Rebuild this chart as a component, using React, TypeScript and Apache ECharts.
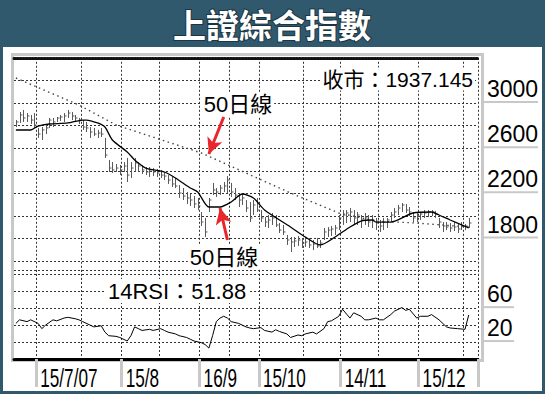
import React, { useEffect, useRef } from 'react';
import * as echarts from 'echarts';

const TITLE = '上證綜合指數';
const CLOSE_TEXT = '收市：1937.145';
const RSI_TEXT = '14RSI：51.88';
const MA_NOTE = '50日線';

// daily bars (high / low / close), one per trading day
const high = [2849,2920,2938,2911,2894,2911,2779,2787,2805,2867,
  2867,2876,2894,2911,2938,2920,2894,2867,2849,2832,
  2787,2779,2761,2779,2690,2495,2477,2460,2451,2477,
  2513,2477,2513,2477,2451,2433,2433,2424,2415,2407,
  2389,2362,2345,2336,2274,2247,2212,2194,2176,2159,
  2035,1982,2159,2292,2247,2274,2300,2353,2292,2247,
  2203,2203,2141,2123,2141,2159,2052,1990,2008,2026,
  2008,1937,1920,1831,1813,1813,1822,1804,1813,1804,
  1787,1804,1787,1893,1902,1911,1920,2008,2052,2052,
  2070,2052,2035,2008,2026,2008,2008,1982,1964,1982,
  1982,2035,2070,2097,2114,2106,2079,2035,2026,2035,
  2052,2052,2052,2044,1982,1946,1946,1937,1946,1937,
  1946,1928,1982];
const low = [2787,2823,2832,2832,2814,2779,2690,2672,2725,2779,
  2787,2832,2841,2832,2867,2849,2832,2814,2761,2743,
  2690,2708,2690,2699,2513,2389,2380,2389,2362,2389,
  2300,2336,2389,2389,2371,2362,2345,2353,2345,2336,
  2318,2283,2256,2247,2159,2141,2106,2088,2070,2052,
  1911,1813,2035,2185,2168,2185,2212,2203,2168,2141,
  2079,2097,2035,1946,2008,2035,1946,1902,1893,1920,
  1902,1849,1831,1743,1680,1725,1734,1716,1725,1716,
  1698,1716,1716,1787,1813,1822,1831,1875,1920,1937,
  1946,1920,1920,1893,1920,1902,1893,1875,1858,1875,
  1893,1946,1982,2008,2035,2026,1999,1946,1946,1964,
  1982,1990,1999,1982,1893,1858,1875,1858,1866,1849,
  1875,1875,1893];
const close = [2832,2894,2867,2885,2849,2805,2725,2761,2779,2849,
  2832,2867,2876,2885,2911,2885,2867,2849,2787,2779,
  2743,2725,2734,2725,2539,2424,2407,2424,2407,2442,
  2362,2424,2469,2442,2407,2389,2407,2389,2380,2362,
  2353,2318,2283,2265,2203,2176,2159,2141,2106,2088,
  1946,1858,2141,2230,2212,2247,2265,2318,2212,2185,
  2141,2159,2070,1982,2097,2052,1982,1946,1964,1982,
  1920,1875,1858,1787,1769,1778,1787,1760,1769,1743,
  1751,1734,1760,1858,1875,1884,1893,1982,2008,2026,
  2035,1982,2008,1964,1982,1946,1964,1937,1911,1946,
  1964,2008,2035,2070,2097,2052,2035,1982,1999,2017,
  2026,2035,2035,2017,1946,1911,1902,1893,1902,1884,
  1911,1911,1937];

// solid moving average (read at traced points)
const maIdx = [0,4,6,9,14,18,19,22,24,26,30,32,33,35,40,43,47,49,52,55,58,61,64,67,74,78,82,86,90,93,96,97,101,107,112,114,117,122];
const maVal = [2761,2761,2796,2814,2823,2849,2849,2823,2787,2672,2566,2495,2469,2424,2389,2336,2247,2212,2079,2079,2123,2194,2159,2052,1902,1813,1743,1813,1902,1955,1964,1946,1946,2026,2035,2008,1964,1895];

// dotted long moving average
const longIdx = [0,17,27,50,62,74,87,97,108,122];
const longVal = [3221,2982,2805,2557,2380,2203,2026,1955,1937,1902];

// 14-day RSI
const rsiIdx = [0,1,3,4,6,7,8,10,11,13,14,16,17,18,20,21,23,24,25,27,28,30,31,32,33,34,36,37,39,40,41,43,44,46,47,48,50,51,52,53,54,55,56,57,58,60,62,63,64,66,67,69,70,71,73,74,76,77,78,80,81,83,84,85,87,88,90,91,93,94,95,97,98,99,101,102,104,105,106,108,109,111,112,114,116,117,119,121,122];
const rsiVal = [42.0,46.2,44.1,46.2,42.0,35.8,40.0,46.2,45.0,48.3,49.2,47.5,46.2,44.1,40.0,37.9,39.2,31.7,27.5,26.7,25.4,21.2,27.5,37.9,35.8,33.7,35.0,33.7,35.8,33.7,31.7,29.6,27.5,25.4,23.3,21.2,19.2,17.0,12.9,27.5,44.1,48.3,50.4,48.3,44.1,42.0,37.9,36.6,35.8,37.0,33.7,31.7,34.5,32.5,29.6,25.4,28.3,27.5,29.6,31.7,29.6,35.8,44.1,45.0,50.4,58.7,48.3,54.5,50.4,46.2,46.2,48.3,46.2,46.2,52.4,56.5,60.7,57.4,58.7,48.3,50.4,50.4,52.4,46.2,37.9,36.6,35.8,35.0,51.9];

const priceLabels = [3000, 2600, 2200, 1800];
const rsiLabels = [60, 20];
const tickLabels = ['15/7/07', '15/8', '16/9', '15/10', '14/11', '15/12'];
const tickIdx = [6, 29, 50, 66, 88, 109];
const gridIdx = [6, 18, 29, 39, 50, 58, 66, 78, 88, 98, 109, 121];
const SLOT_COUNT = 125;

// annotation arrows, in data space [day index, price]
const arrowToLong = [[56, 2876], [52, 2548]];
const arrowToMa = [[57, 1787], [55, 2070]];

export default function App() {
  const ref = useRef<HTMLDivElement>(null);
  useEffect(() => {
    const chart = echarts.init(ref.current!, null, { renderer: 'svg' });
    const cats = Array.from({ length: SLOT_COUNT }, (_, i) => String(i));
    const bars = high.map((h, i) => [i, h, low[i], close[i]]);
    const LAT = '"Liberation Sans", Arial, sans-serif';
    const MIX = '"Liberation Sans", "Noto Sans CJK TC", sans-serif';
    const dash = { color: '#333', width: 1, type: [2, 2] };
    const isGrid = (i: number) => gridIdx.includes(i);
    const isTick = (i: number) => tickIdx.includes(i);

    const baseGraphic: any[] = [
      { type: 'rect', z: -10, shape: { x: 3, y: 47, width: 539, height: 344 }, style: { fill: '#fff' } },
      { type: 'rect', z: -5, shape: { x: 12.5, y: 54.5, width: 470, height: 306 }, style: { fill: 'none', stroke: '#c8c8c8', lineWidth: 3 } },
      {
        type: 'text', z: 30, x: 272, y: 24,
        style: { text: TITLE, fill: '#fff', stroke: '#1b3542', lineWidth: 2, font: 'bold 33px "Noto Sans CJK TC", sans-serif', align: 'center', verticalAlign: 'middle' },
      },
      {
        type: 'text', z: 30, x: 475, y: 79,
        style: { text: CLOSE_TEXT, fill: '#000', font: `21px ${MIX}`, align: 'right', verticalAlign: 'middle', backgroundColor: '#fff', padding: [1, 2] },
      },
      {
        type: 'text', z: 30, x: 106, y: 291,
        style: { text: RSI_TEXT, fill: '#000', font: `22px ${MIX}`, align: 'left', verticalAlign: 'middle', backgroundColor: '#fff', padding: [1, 2] },
      },
      {
        type: 'text', z: 30, x: 238, y: 104,
        style: { text: MA_NOTE, fill: '#000', font: `22px ${MIX}`, align: 'center', verticalAlign: 'middle', backgroundColor: '#fff', padding: [1, 2] },
      },
      {
        type: 'text', z: 30, x: 224, y: 257,
        style: { text: MA_NOTE, fill: '#000', font: `22px ${MIX}`, align: 'center', verticalAlign: 'middle', backgroundColor: '#fff', padding: [1, 2] },
      },
    ];

    chart.setOption({
      animation: false,
      backgroundColor: '#31596d',
      grid: [
        { left: 14, right: 67, top: 57.8, height: 225.9, outerBoundsMode: 'none', containLabel: false },
        { left: 14, right: 67, top: 270, height: 89, outerBoundsMode: 'none', containLabel: false },
      ],
      xAxis: [
        {
          type: 'category', gridIndex: 0, data: cats, position: 'top', boundaryGap: true,
          axisLine: { show: true, lineStyle: { color: '#111', width: 3, type: [1.5, 1.5] } },
          axisTick: { show: false }, axisLabel: { show: false },
          splitLine: { show: true, interval: (i: number) => isGrid(i), lineStyle: dash },
        },
        {
          type: 'category', gridIndex: 1, data: cats, position: 'top', boundaryGap: true,
          axisLine: { show: true, lineStyle: { color: '#000', width: 3 } },
          axisTick: { show: false }, axisLabel: { show: false },
          splitLine: { show: true, interval: (i: number) => isGrid(i), lineStyle: dash },
        },
        {
          type: 'category', gridIndex: 1, data: cats, position: 'bottom', boundaryGap: true,
          axisLine: { show: false },
          axisTick: { show: true, interval: (i: number) => isTick(i), length: 28, lineStyle: { color: '#c8c8c8', width: 3 } },
          axisLabel: { show: false },
          splitLine: { show: false },
        },
      ],
      yAxis: [
        {
          type: 'value', gridIndex: 0, position: 'right', min: 1400, max: 3400, interval: 200,
          axisLine: { show: false }, axisTick: { show: false },
          splitLine: { show: true, showMinLine: false, lineStyle: dash },
          axisLabel: {
            show: true, margin: 4, verticalAlign: 'bottom',
            formatter: (v: number) => (priceLabels.includes(v) ? `{t|${v}}\n{u|}` : ''),
            rich: {
              t: { fontSize: 23, fontFamily: LAT, color: '#000', padding: [0, 0, 0, 5], lineHeight: 24 },
              u: { width: 56, height: 2, backgroundColor: '#c8c8c8' },
            },
          },
        },
        {
          type: 'value', gridIndex: 1, position: 'right', min: 0, max: 105, interval: 20,
          axisLine: { show: false }, axisTick: { show: false },
          splitLine: { show: true, showMinLine: false, lineStyle: dash },
          axisLabel: {
            show: true, margin: 4, verticalAlign: 'bottom',
            formatter: (v: number) => (rsiLabels.includes(v) ? `{t|${v}}\n{u|}` : ''),
            rich: {
              t: { fontSize: 23, fontFamily: LAT, color: '#000', padding: [0, 0, 0, 5], lineHeight: 24 },
              u: { width: 32, height: 2, backgroundColor: '#c8c8c8' },
            },
          },
        },
      ],
      series: [
        {
          type: 'custom', xAxisIndex: 0, yAxisIndex: 0, data: bars, z: 3,
          encode: { x: 0, y: [1, 2, 3] },
          renderItem: (params: any, api: any) => {
            const i = api.value(0);
            const top = api.coord([i, api.value(1)]);
            const bot = api.coord([i, api.value(2)]);
            const cl = api.coord([i, api.value(3)]);
            const x = Math.round(top[0]) + 0.5;
            return {
              type: 'group',
              children: [
                { type: 'line', shape: { x1: x, y1: top[1], x2: x, y2: bot[1] }, style: { stroke: '#5a5a5a', lineWidth: 1 } },
                { type: 'line', shape: { x1: x, y1: cl[1], x2: x + 2, y2: cl[1] }, style: { stroke: '#5a5a5a', lineWidth: 1 } },
              ],
            };
          },
        },
        {
          type: 'line', xAxisIndex: 0, yAxisIndex: 0, z: 4,
          data: longIdx.map((x, k) => [x, longVal[k]]),
          showSymbol: false, symbol: 'none',
          lineStyle: { color: '#444', width: 1.4, type: [1.5, 3.5] },
        },
        {
          type: 'line', xAxisIndex: 0, yAxisIndex: 0, z: 5,
          data: maIdx.map((x, k) => [x, maVal[k]]),
          showSymbol: false, symbol: 'none', smooth: 0.25,
          lineStyle: { color: '#000', width: 1.3 },
          markLine: {
            silent: true, symbol: ['none', 'arrow'], symbolSize: [12, 16],
            lineStyle: { color: '#e8262b', width: 3, type: 'solid' },
            label: { show: false },
            data: [
              [{ coord: arrowToLong[0] }, { coord: arrowToLong[1] }],
              [{ coord: arrowToMa[0] }, { coord: arrowToMa[1] }],
            ],
          },
        },
        {
          type: 'line', xAxisIndex: 1, yAxisIndex: 1, z: 4,
          data: rsiIdx.map((x, k) => [x, rsiVal[k]]),
          showSymbol: false, symbol: 'none',
          lineStyle: { color: '#000', width: 1 },
        },
      ],
      graphic: baseGraphic,
    });

    // condensed date labels, placed just right of each separator tick via the axis scale
    const c0 = chart.convertToPixel({ xAxisIndex: 2 }, '0') as number;
    const c1 = chart.convertToPixel({ xAxisIndex: 2 }, '1') as number;
    const bw = c1 - c0;
    const dateTexts = tickIdx.map((idx, k) => {
      const center = chart.convertToPixel({ xAxisIndex: 2 }, String(idx)) as number;
      return {
        type: 'text', z: 30, x: center - bw / 2 + 4, y: 378, scaleX: 0.66,
        style: { text: tickLabels[k], fill: '#000', font: `26px ${LAT}`, align: 'left', verticalAlign: 'middle' },
      };
    });
    chart.setOption({ graphic: [...baseGraphic, ...dateTexts] });

    return () => chart.dispose();
  }, []);
  return <div ref={ref} style={{ position: 'fixed', left: 0, top: 0, width: 545, height: 394 }} />;
}
